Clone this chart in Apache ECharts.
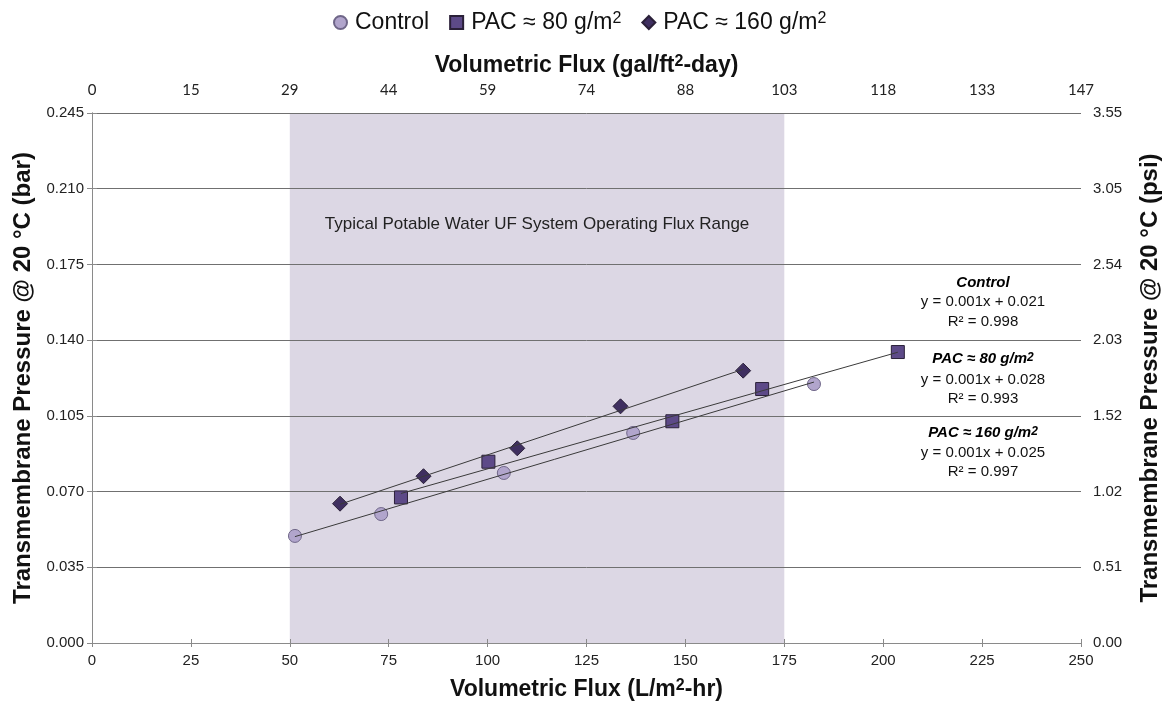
<!DOCTYPE html>
<html><head><meta charset="utf-8">
<script src="https://cdn.jsdelivr.net/npm/echarts@6/dist/echarts.min.js"></script>
<style>html,body{margin:0;padding:0;background:#fff}#c{width:1167px;height:704px}</style>
</head><body><div id="c"></div>
<script>
// ---- data ----
const seriesNames = ['Control', 'PAC ≈ 80 g/m²', 'PAC ≈ 160 g/m²'];
const controlX = [51.3, 73.1, 104.1, 136.8, 182.5];
const controlY = [0.0495, 0.0596, 0.0786, 0.0971, 0.1197];
const pac80X = [78.1, 100.2, 146.7, 169.4, 203.7];
const pac80Y = [0.0673, 0.0838, 0.1025, 0.1174, 0.1345];
const pac160X = [62.7, 83.8, 107.5, 133.6, 164.6];
const pac160Y = [0.0644, 0.0771, 0.0900, 0.1094, 0.1259];
const bandRange = [50, 175];
const bandLabel = 'Typical Potable Water UF System Operating Flux Range';
const topTickLabels = ['0', '15', '29', '44', '59', '74', '88', '103', '118', '133', '147'];
const rightTickLabels = ['0.00', '0.51', '1.02', '1.52', '2.03', '2.54', '3.05', '3.55'];
const leftTickLabels = ['0.000', '0.035', '0.070', '0.105', '0.140', '0.175', '0.210', '0.245'];
const fitTitles = ['Control', 'PAC ≈ 80 g/m{isup|2}', 'PAC ≈ 160 g/m{isup|2}'];
const fitEquations = ['y = 0.001x + 0.021', 'y = 0.001x + 0.028', 'y = 0.001x + 0.025'];
const fitR2 = ['R² = 0.998', 'R² = 0.993', 'R² = 0.997'];

// ---- helpers ----
function pairs(xs, ys) { return xs.map((x, i) => [x, ys[i]]); }
function fitLine(xs, ys) {
  const n = xs.length;
  const mx = xs.reduce((a, b) => a + b, 0) / n, my = ys.reduce((a, b) => a + b, 0) / n;
  let sxy = 0, sxx = 0;
  for (let i = 0; i < n; i++) { sxy += (xs[i] - mx) * (ys[i] - my); sxx += (xs[i] - mx) ** 2; }
  const b = sxy / sxx, a = my - b * mx;
  const x0 = Math.min(...xs), x1 = Math.max(...xs);
  return [[x0, a + b * x0], [x1, a + b * x1]];
}

const colors = ['#b1a5cc', '#5d4a88', '#3f2f60'];
const FONT = 'Liberation Sans, Arial, sans-serif';
const supRich = { sup: { fontSize: 16, fontWeight: 'bold', verticalAlign: 'top', lineHeight: 20, fontFamily: FONT, color: '#111' } };

const chart = echarts.init(document.getElementById('c'));

const scatterDefs = [
  { name: seriesNames[0], data: pairs(controlX, controlY), symbol: 'circle', size: 13 },
  { name: seriesNames[1], data: pairs(pac80X, pac80Y), symbol: 'rect', size: 13 },
  { name: seriesNames[2], data: pairs(pac160X, pac160Y), symbol: 'diamond', size: 15 }
];
const fits = [fitLine(controlX, controlY), fitLine(pac80X, pac80Y), fitLine(pac160X, pac160Y)];

const series = [];
series.push({
  type: 'scatter', data: [], z: 0, silent: true,
  markArea: {
    silent: true, z: 0,
    itemStyle: { color: '#dcd7e4' },
    label: { show: true, position: 'insideTop', distance: 103, fontSize: 17, fontFamily: FONT, color: '#222', formatter: bandLabel },
    data: [[{ xAxis: bandRange[0], yAxis: 0 }, { xAxis: bandRange[1], yAxis: 0.245 }]]
  }
});
scatterDefs.forEach((d, i) => {
  series.push({
    type: 'scatter', name: d.name, data: d.data, symbol: d.symbol, symbolSize: d.size, z: 5,
    itemStyle: { color: colors[i], borderColor: i === 0 ? '#6f6688' : '#2a2038', borderWidth: 1, opacity: 1 }
  });
});
fits.forEach((f) => {
  series.push({
    type: 'line', data: f, symbol: 'none', z: 6, silent: true,
    lineStyle: { color: '#3a3a3a', width: 1 }
  });
});

// annotations
const ax = 983;
const annY = [[283, 302, 322], [359, 380, 399], [433, 453, 472]];
const graphics = [];
for (let i = 0; i < 3; i++) {
  graphics.push({ type: 'text', x: ax, y: annY[i][0], style: { text: '{t|' + fitTitles[i].replace('{isup|2}', '}{isup|2}{t|') + '}', align: 'center', verticalAlign: 'middle',
    rich: { t: { fontSize: 15, fontWeight: 'bold', fontStyle: 'italic', fontFamily: FONT, color: '#111' },
            isup: { fontSize: 12, fontWeight: 'bold', fontStyle: 'italic', fontFamily: FONT, verticalAlign: 'top', color: '#111' } } } });
  graphics.push({ type: 'text', x: ax, y: annY[i][1], style: { text: fitEquations[i], align: 'center', verticalAlign: 'middle', font: '15px ' + FONT, fill: '#111' } });
  graphics.push({ type: 'text', x: ax, y: annY[i][2], style: { text: fitR2[i], align: 'center', verticalAlign: 'middle', font: '15px ' + FONT, fill: '#111' } });
}

const axisLine = { show: true, lineStyle: { color: '#8a8a8a', width: 1 } };
chart.setOption({
  animation: false,
  textStyle: { fontFamily: FONT },
  grid: { left: 92, right: 86, top: 113, bottom: 61, outerBoundsMode: 'none', containLabel: false },
  legend: {
    top: 6, left: 328, itemWidth: 13, itemHeight: 13, itemGap: 20,
    data: seriesNames,
    textStyle: { fontSize: 23, color: '#111', fontFamily: FONT, padding: [0, 0, 0, 3],
      rich: { sup: { fontSize: 16, verticalAlign: 'top', lineHeight: 21, fontFamily: FONT, color: '#111' } } },
    formatter: (n) => n.replace('²', '{sup|2}')
  },
  xAxis: [
    { type: 'value', position: 'bottom', min: 0, max: 250, interval: 25, z: 2,
      axisLine, axisTick: { show: true, inside: true, length: 4, lineStyle: { color: '#8a8a8a' } },
      axisLabel: { fontSize: 15, color: '#222', margin: 10 }, splitLine: { show: false },
      name: 'Volumetric Flux (L/m{sup|2}-hr)', nameLocation: 'middle', nameGap: 35,
      nameTextStyle: { fontSize: 23, fontWeight: 'bold', color: '#111', rich: supRich } },
    { type: 'value', position: 'top', min: 0, max: 250, interval: 25, z: 2,
      axisLine, axisTick: { show: true, inside: true, length: 4, lineStyle: { color: '#8a8a8a' } },
      axisLabel: { fontSize: 15, color: '#222', margin: 15, fontFamily: 'Lato, Open Sans, sans-serif', formatter: (v) => topTickLabels[Math.round(v / 25)] },
      splitLine: { show: false },
      name: 'Volumetric Flux (gal/ft{sup|2}-day)', nameLocation: 'middle', nameGap: 36,
      nameTextStyle: { fontSize: 23, fontWeight: 'bold', color: '#111', rich: supRich } }
  ],
  yAxis: [
    { type: 'value', position: 'left', min: 0, max: 0.245, interval: 0.035, z: 2,
      axisLine, axisTick: { show: true, length: 5, lineStyle: { color: '#8a8a8a' } },
      axisLabel: { fontSize: 15, color: '#222', margin: 8, formatter: (v) => leftTickLabels[Math.round(v / 0.035)] },
      splitLine: { show: true, lineStyle: { color: '#707070', width: 1 } },
      name: 'Transmembrane Pressure @ 20 °C (bar)', nameLocation: 'middle', nameGap: 56, nameRotate: 90,
      nameTextStyle: { fontSize: 24, fontWeight: 'bold', color: '#111' } },
    { type: 'value', position: 'right', min: 0, max: 0.245, interval: 0.035, z: 2,
      axisLine, axisTick: { show: true, length: 5, lineStyle: { color: '#8a8a8a' } },
      axisLabel: { fontSize: 15, color: '#222', margin: 12, formatter: (v) => rightTickLabels[Math.round(v / 0.035)] },
      splitLine: { show: false },
      name: 'Transmembrane Pressure @ 20 °C (psi)', nameLocation: 'middle', nameGap: 57, nameRotate: 90,
      nameTextStyle: { fontSize: 24, fontWeight: 'bold', color: '#111' } }
  ],
  series,
  graphic: graphics
});
</script></body></html>
